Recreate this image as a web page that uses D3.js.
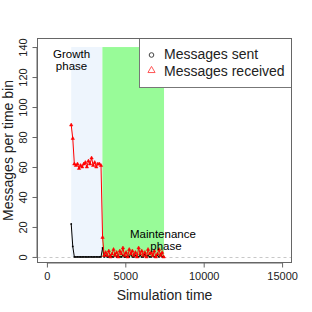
<!DOCTYPE html>
<html><head><meta charset="utf-8">
<script src="https://cdn.jsdelivr.net/npm/d3@7"></script>
<style>body{margin:0;background:#fff}svg{display:block;font-family:"Liberation Sans",Arial,sans-serif}</style>
</head><body><svg id="c" width="312" height="312"></svg>
<script>
const times = [1550,1650,1750,1850,1950,2050,2150,2250,2350,2450,2550,2650,2750,2850,2950,3050,3150,3250,3350,3450,
  3550,3650,3750,3850,3950,4050,4150,4250,4350,4450,4550,4650,4750,4850,4950,5050,5150,5250,5350,5450,
  5550,5650,5750,5850,5950,6050,6150,6250,6350,6450,6550,6650,6750,6850,6950,7050,7150,7250,7350,7450];
const sent = [22,7,0,0,0,0,0,0,0,0,0,0,0,0,0,0,0,0,0,0,
  6,0,1,0,0,1,0,0,2,0,1,0,0,1,0,0,1,0,2,0,0,
  1,0,0,1,0,0,2,0,1,0,0,1,0,0,1,0,2,0,0];
const received = [88,79,62,61,62,59,61,60,62,63,60,64,62,66,61,63,60,62,62,61,
  13,1,3,1,4,0,2,5,1,3,0,4,2,6,1,3,0,5,2,4,1,3,0,6,2,4,1,3,0,5,2,3,1,4,0,2,5,1,3,0];
const phases = [{name:["Growth","phase"], start:1550, end:3540, color:"#EEF5FD", labelX:1570},
                {name:["Maintenance","phase"], start:3540, end:7470, color:"#98FB98", labelX:7400}];
const xTicks = [0,5000,10000,15000];
const yTicks = [0,20,40,60,80,100,120,140];
const legendLabels = ["Messages sent","Messages received"];

const svg = d3.select("#c");
const L=37.5, R=291.5, T=38.5, B=262.5;
const x = d3.scaleLinear().domain([-600,15600]).range([L,R]);
const y = d3.scaleLinear().domain([-3.7,145.7]).range([B,T]);

// phase regions
svg.selectAll("rect.ph").data(phases).enter().append("rect")
  .attr("x",d=>x(d.start)).attr("width",d=>x(d.end)-x(d.start))
  .attr("y",y(140)).attr("height",y(0)-y(140)).attr("fill",d=>d.color);

// dashed zero line
svg.append("line").attr("x1",L).attr("x2",R).attr("y1",Math.round(y(0))+0.5).attr("y2",Math.round(y(0))+0.5)
  .attr("stroke","#c8c8c8").attr("stroke-dasharray","3,3");

const data = times.map((t,i)=>({t,s:sent[i],r:received[i]}));
// sent series
svg.append("path").datum(data).attr("fill","none").attr("stroke","#000").attr("stroke-width",1)
  .attr("d",d3.line().x(d=>x(d.t)).y(d=>y(d.s)));
svg.selectAll("circle.s").data(data).enter().append("circle")
  .attr("cx",d=>x(d.t)).attr("cy",d=>y(d.s)).attr("r",0.9).attr("fill","#000");
// received series
svg.append("path").datum(data).attr("fill","none").attr("stroke","#f00").attr("stroke-width",1)
  .attr("d",d3.line().x(d=>x(d.t)).y(d=>y(d.r)));
const tri = d3.symbol().type(d3.symbolTriangle).size(5);
svg.selectAll("path.r").data(data).enter().append("path")
  .attr("transform",d=>`translate(${x(d.t)},${y(d.r)})`).attr("d",tri)
  .attr("fill","#f00").attr("stroke","#f00").attr("stroke-width",0.5);

// phase labels
const g0 = svg.append("text").attr("text-anchor","middle").attr("font-size",11.5).attr("fill","#000");
g0.append("tspan").attr("x",x(phases[0].labelX)).attr("y",57.5).text(phases[0].name[0]);
g0.append("tspan").attr("x",x(phases[0].labelX)).attr("y",69.5).text(phases[0].name[1]);
const g1 = svg.append("text").attr("text-anchor","middle").attr("font-size",11.5).attr("fill","#000");
g1.append("tspan").attr("x",x(phases[1].labelX)).attr("y",237.5).text(phases[1].name[0]);
g1.append("tspan").attr("x",x(phases[1].labelX)+3).attr("y",249.5).text(phases[1].name[1]);

// legend
const lg = svg.append("g");
lg.append("rect").attr("x",139.5).attr("y",T).attr("width",R-139.5).attr("height",49)
  .attr("fill","#fff").attr("stroke","#777");
lg.append("circle").attr("cx",151.5).attr("cy",55).attr("r",2.3).attr("fill","none").attr("stroke","#444");
lg.append("path").attr("transform","translate(151.5,70.5)").attr("d",d3.symbol().type(d3.symbolTriangle).size(22))
  .attr("fill","none").attr("stroke","#f55");
lg.selectAll("text").data(legendLabels).enter().append("text")
  .attr("x",164).attr("y",(d,i)=>59+i*16.7).attr("font-size",14).attr("fill","#222").text(d=>d);

// box
svg.append("rect").attr("x",L).attr("y",T).attr("width",R-L).attr("height",B-T)
  .attr("fill","none").attr("stroke","#666");

// axes
const xa = svg.append("g").attr("transform",`translate(0,${B})`)
  .call(d3.axisBottom(x).tickValues(xTicks).tickSize(5).tickPadding(5).tickFormat(d3.format("d")));
xa.select(".domain").attr("d",`M${x(0)},0.5H${x(15000)}`).attr("stroke","#666");
xa.selectAll(".tick line").attr("stroke","#666");
xa.selectAll("text").attr("font-size",11).attr("font-family","Liberation Sans, Arial, sans-serif").attr("fill","#222");
const ya = svg.append("g").attr("transform",`translate(${L},0)`)
  .call(d3.axisLeft(y).tickValues(yTicks).tickSize(5).tickFormat(d3.format("d")));
ya.select(".domain").attr("d",`M-0.5,${y(0)}V${y(140)}`).attr("stroke","#666");
ya.selectAll(".tick line").attr("stroke","#666");
ya.selectAll("text").attr("font-size",11).attr("font-family","Liberation Sans, Arial, sans-serif").attr("fill","#222")
  .attr("transform","rotate(-90)").attr("x",0).attr("y",-11).attr("dy",0).attr("text-anchor","middle");

svg.append("text").attr("x",(x(0)+x(15000))/2).attr("y",300).attr("text-anchor","middle")
  .attr("font-size",14).attr("fill","#222").text("Simulation time");
svg.append("text").attr("transform",`translate(12.5,${(T+B)/2}) rotate(-90)`).attr("text-anchor","middle")
  .attr("font-size",14).attr("fill","#222").text("Messages per time bin");
</script></body></html>
